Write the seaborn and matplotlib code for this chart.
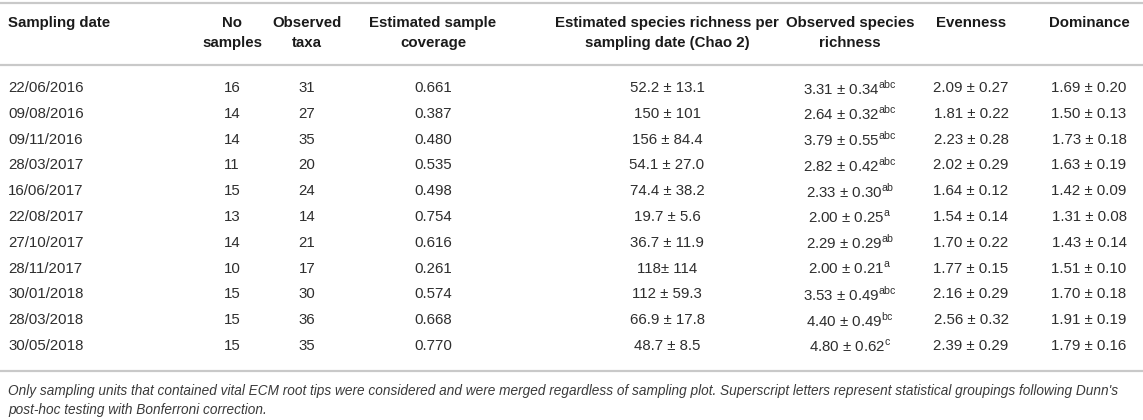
import numpy as np
import pandas as pd
import matplotlib
matplotlib.use("Agg")
import matplotlib.pyplot as plt
import seaborn as sns

# table values
dates = ["22/06/2016", "09/08/2016", "09/11/2016", "28/03/2017", "16/06/2017", "22/08/2017",
         "27/10/2017", "28/11/2017", "30/01/2018", "28/03/2018", "30/05/2018"]
n_samples = [16, 14, 14, 11, 15, 13, 14, 10, 15, 15, 15]
obs_taxa = [31, 27, 35, 20, 24, 14, 21, 17, 30, 36, 35]
coverage = ["0.661", "0.387", "0.480", "0.535", "0.498", "0.754", "0.616", "0.261", "0.574", "0.668", "0.770"]
chao2 = ["52.2 ± 13.1", "150 ± 101", "156 ± 84.4", "54.1 ± 27.0", "74.4 ± 38.2", "19.7 ± 5.6",
         "36.7 ± 11.9", "118± 114", "112 ± 59.3", "66.9 ± 17.8", "48.7 ± 8.5"]
obs_rich = ["3.31 ± 0.34", "2.64 ± 0.32", "3.79 ± 0.55", "2.82 ± 0.42", "2.33 ± 0.30", "2.00 ± 0.25",
            "2.29 ± 0.29", "2.00 ± 0.21", "3.53 ± 0.49", "4.40 ± 0.49", "4.80 ± 0.62"]
groups = ["abc", "abc", "abc", "abc", "ab", "a", "ab", "a", "abc", "bc", "c"]
evenness = ["2.09 ± 0.27", "1.81 ± 0.22", "2.23 ± 0.28", "2.02 ± 0.29", "1.64 ± 0.12", "1.54 ± 0.14",
            "1.70 ± 0.22", "1.77 ± 0.15", "2.16 ± 0.29", "2.56 ± 0.32", "2.39 ± 0.29"]
dominance = ["1.69 ± 0.20", "1.50 ± 0.13", "1.73 ± 0.18", "1.63 ± 0.19", "1.42 ± 0.09", "1.31 ± 0.08",
             "1.43 ± 0.14", "1.51 ± 0.10", "1.70 ± 0.18", "1.91 ± 0.19", "1.79 ± 0.16"]
headers = ["Sampling date", "No\nsamples", "Observed\ntaxa", "Estimated sample\ncoverage",
           "Estimated species richness per\nsampling date (Chao 2)", "Observed species\nrichness",
           "Evenness", "Dominance"]
footnote = ("Only sampling units that contained vital ECM root tips were considered and were merged regardless "
            "of sampling plot. Superscript letters represent statistical groupings following Dunn's\n"
            "post-hoc testing with Bonferroni correction.")

df = pd.DataFrame({
    headers[0]: dates,
    headers[1]: n_samples,
    headers[2]: obs_taxa,
    headers[3]: coverage,
    headers[4]: chao2,
    headers[5]: [v + r"$^{\mathregular{" + g + "}}$" for v, g in zip(obs_rich, groups)],
    headers[6]: evenness,
    headers[7]: dominance,
})

sns.set_theme(style="white")
plt.rcParams["font.family"] = ["Liberation Sans", "DejaVu Sans"]
plt.rcParams["mathtext.fontset"] = "custom"
plt.rcParams["mathtext.rm"] = "Liberation Sans"

fig = plt.figure(figsize=(11.43, 4.2), dpi=100)
ax = fig.add_axes([0, 0, 1, 1])
ax.set_xlim(0, 1143)
ax.set_ylim(420, 0)
ax.axis("off")

col_x = [8, 232, 307, 433, 667, 850, 971, 1089]
col_ha = ["left"] + ["center"] * 7
row_y0, row_step = 88, 25.8
text_col = "#2e2e2e"
line_col = "#c9c9c9"

ax.hlines([3, 65, 371], 0, 1143, color=line_col, lw=1.6)

for x, ha, h in zip(col_x, col_ha, df.columns):
    for k, part in enumerate(h.split("\n")):
        ax.text(x, 23 + 20 * k, part, ha=ha, va="center", fontsize=10.8,
                fontweight="bold", color="#1a1a1a")

for i, row in df.iterrows():
    y = row_y0 + row_step * i
    for x, ha, val in zip(col_x, col_ha, row.values):
        ax.text(x, y, str(val), ha=ha, va="center", fontsize=10.8, color=text_col)

ax.text(8, 400.5, footnote, ha="left", va="center", fontsize=9.85, style="italic",
        color="#3a3a3a", linespacing=1.5)

fig.savefig("out.png", dpi=100)
